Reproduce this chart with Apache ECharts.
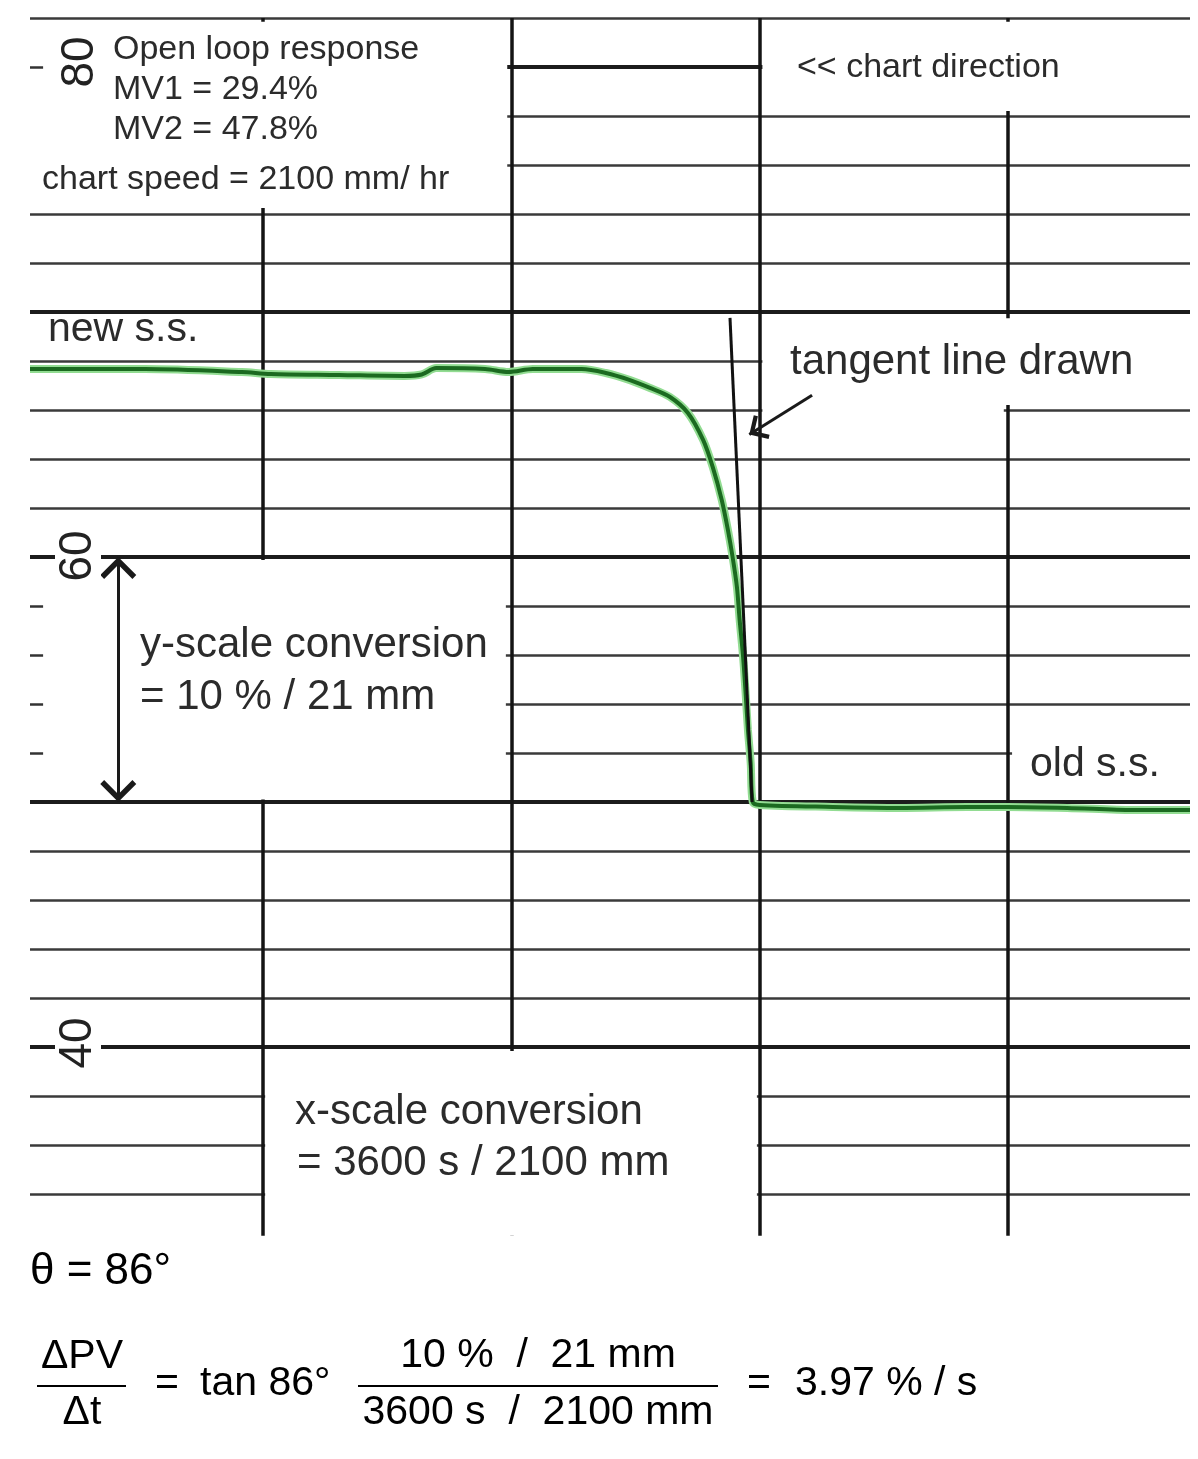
<!DOCTYPE html>
<html>
<head>
<meta charset="utf-8" />
<title>Open loop response</title>
<script src="https://cdn.jsdelivr.net/npm/echarts@6/dist/echarts.min.js"></script>
<style>
  html, body { margin: 0; padding: 0; background: #fff; }
  #chart { width: 1198px; height: 1459px; }
</style>
</head>
<body>
<div id="chart"></div>
<script>
// chart time in s (one major division = 21 mm = 36 s at 2100 mm/hr), PV in %
const timeMin = -33.8, timeMax = 134.4;
const pvMin = 32.3, pvMax = 82;

const majorTimes = [0, 36, 72, 108];
const majorPV = [40, 50, 60, 70, 80];
const minorPV = [34, 36, 38, 42, 44, 46, 48, 52, 54, 56, 58, 62, 64, 66, 68, 72, 74, 76, 78, 82];
const scaleTicks = [80, 58, 56, 54, 52];
const scaleLabels = ['80', '60', '40'];

// recorded PV trace
const pvTime = [-33.8, -17.1, -3.1, 1.1, 11.0, 20.5, 23.0, 25.1, 32.2, 35.6, 39.1, 46.2, 49.7, 53.2, 56.1,
  59.0, 61.6, 63.8, 65.2, 66.5, 67.4, 68.1, 68.7, 69.1, 69.6, 70.0, 70.3, 70.7, 71.0, 72.0,
  82.6, 92.3, 102.1, 107.9, 116.6, 126.1, 134.4];
const pvValue = [67.67, 67.67, 67.55, 67.47, 67.43, 67.39, 67.45, 67.71, 67.67, 67.55, 67.67, 67.67, 67.51, 67.22, 66.90,
  66.53, 65.88, 64.78, 63.67, 62.33, 61.10, 59.96, 58.78, 57.43, 55.92, 54.29, 52.94, 51.59, 50.0, 49.88,
  49.80, 49.76, 49.80, 49.80, 49.76, 49.67, 49.67];

// tangent drawn at the steepest point
const tangentTime = [67.7, 70.9];
const tangentValue = [69.76, 50.0];

// y-scale span (10 % = 21 mm) and the pointer to the tangent
const spanTime = -21.0;
const spanValue = [60, 50];
const pointerTime = [79.6, 70.5];
const pointerValue = [66.6, 65.0];

// white label panels [t1, pv1, t2, pv2]
const panels = [
  [-33.8, 81.85, 35.4, 74.25],
  [72.4, 81.85, 134.4, 78.2],
  [72.4, 69.75, 134.4, 66.2],
  [72.4, 66.2, 107.4, 65.2],
  [-33.8, 59.88, 35.2, 50.1],
  [108.6, 52.75, 134.4, 50.4],
  [0.3, 39.84, 71.6, 32.3]
];

const FONT = '"Liberation Sans", Arial, sans-serif';
const chevron = 'path://M0,14L14,0L28,14L25,17L14,6L3,17Z';

function txt(str, x, y, size, extra) {
  const el = {
    type: 'text', x: x, y: y, z: 20,
    style: {
      text: str, font: size + 'px ' + FONT, fill: '#2b2b2b',
      align: 'left', verticalAlign: 'middle',
      textAlign: 'left', textVerticalAlign: 'middle'
    }
  };
  if (extra) {
    Object.assign(el.style, extra.style || {});
    if (extra.rotation != null) el.rotation = extra.rotation;
  }
  return el;
}
function ctr(str, x, y, size, fill) {
  return txt(str, x, y, size, { style: { align: 'center', textAlign: 'center', fill: fill || '#000' } });
}
function bar(x1, x2, y) {
  return { type: 'line', z: 20, shape: { x1: x1, y1: y, x2: x2, y2: y }, style: { stroke: '#000', lineWidth: 2 } };
}
function scaleLabel(str, x, y) {
  return txt(str, x, y, 46, {
    rotation: Math.PI / 2,
    style: { align: 'center', textAlign: 'center', fill: '#222', backgroundColor: '#fff', padding: [0, 4] }
  });
}

const gridLines = []
  .concat(majorPV.map(v => ({ yAxis: v, lineStyle: { width: 4, color: '#1c1c1c', type: 'solid' } })))
  .concat(minorPV.map(v => ({ yAxis: v, lineStyle: { width: 2.5, color: '#3a3a3a', type: 'solid' } })))
  .concat(majorTimes.map(t => ({ xAxis: t, lineStyle: { width: 3.5, color: '#141414', type: 'solid' } })));

const trace = pvTime.map((t, i) => [t, pvValue[i]]);
const tangent = tangentTime.map((t, i) => [t, tangentValue[i]]);

const chart = echarts.init(document.getElementById('chart'));

const option = {
  animation: false,
  backgroundColor: '#ffffff',
  grid: { left: 30, right: 8, top: 18, bottom: 223.35 },
  xAxis: { type: 'value', min: timeMin, max: timeMax, show: false },
  yAxis: { type: 'value', min: pvMin, max: pvMax, show: false },
  series: [
    {
      name: 'grid', type: 'line', data: [], silent: true,
      markLine: {
        z: 2, silent: true, animation: false, symbol: ['none', 'none'],
        label: { show: false }, emphasis: { disabled: true },
        data: gridLines
      }
    },
    {
      name: 'panels', type: 'line', data: [], silent: true,
      markArea: {
        z: 3, silent: true, animation: false,
        label: { show: false },
        itemStyle: { color: '#ffffff', opacity: 1, borderWidth: 0 },
        data: panels.map(p => [{ coord: [p[0], p[1]] }, { coord: [p[2], p[3]] }])
      }
    },
    {
      name: 'scale ticks', type: 'line', data: [], silent: true,
      markLine: {
        z: 6, silent: true, animation: false, symbol: ['none', 'none'],
        label: { show: false },
        lineStyle: { width: 2.5, color: '#333', type: 'solid' },
        data: scaleTicks.map(v => [{ coord: [timeMin, v] }, { coord: [timeMin + 1.9, v] }])
      }
    },
    {
      name: 'y span', type: 'line', data: [], silent: true,
      markLine: {
        z: 6, silent: true, animation: false,
        symbol: [chevron, chevron],
        symbolOffset: [[0, '50%'], [0, '50%']],
        label: { show: false },
        lineStyle: { width: 3, color: '#1a1a1a', type: 'solid' },
        itemStyle: { color: '#1a1a1a' },
        data: [[
          { coord: [spanTime, spanValue[0]], symbolSize: [36, 22] },
          { coord: [spanTime, spanValue[1]], symbolSize: [36, 22] }
        ]]
      }
    },
    {
      name: 'pointer', type: 'line', data: [], silent: true,
      markLine: {
        z: 6, silent: true, animation: false,
        symbol: ['none', chevron],
        symbolOffset: [[0, '50%'], [0, '50%']],
        label: { show: false },
        lineStyle: { width: 3, color: '#1a1a1a', type: 'solid' },
        itemStyle: { color: '#1a1a1a' },
        data: [[
          { coord: [pointerTime[0], pointerValue[0]], symbolSize: [28, 17] },
          { coord: [pointerTime[1], pointerValue[1]], symbolSize: [28, 17] }
        ]]
      }
    },
    {
      name: 'PV halo', type: 'line', data: trace, z: 8, silent: true,
      symbol: 'none', smooth: 0.3,
      lineStyle: { width: 8, color: '#92dc92' }
    },
    {
      name: 'PV', type: 'line', data: trace, z: 9, silent: true,
      symbol: 'none', smooth: 0.3,
      lineStyle: { width: 4, color: '#1b6a20' }
    },
    {
      name: 'tangent', type: 'line', data: tangent, z: 10, silent: true,
      symbol: 'none',
      lineStyle: { width: 3, color: '#111' }
    }
  ],
  graphic: [
    // rotated scale numbers on the chart paper
    scaleLabel(scaleLabels[0], 80, 62),
    scaleLabel(scaleLabels[1], 78, 556),
    scaleLabel(scaleLabels[2], 78, 1043),

    txt('Open loop response', 113, 50, 34),
    txt('MV1 = 29.4%', 113, 90, 34),
    txt('MV2 = 47.8%', 113, 130, 34),
    txt('chart speed = 2100 mm/ hr', 42, 180, 34),
    txt('<< chart direction', 797, 68, 34),
    txt('new s.s.', 48, 330, 41),
    txt('tangent line drawn', 790, 362, 42),
    txt('y-scale conversion', 140, 645, 42),
    txt('= 10 % / 21 mm', 140, 697, 42),
    txt('old s.s.', 1030, 765, 41),
    txt('x-scale conversion', 295, 1112, 42),
    txt('= 3600 s / 2100 mm', 297, 1163, 42),

    // slope calculation below the chart
    txt('\u03b8 = 86\u00b0', 30, 1272, 44, { style: { fill: '#000' } }),
    ctr('\u0394PV', 82, 1357, 41),
    bar(37, 126, 1386),
    ctr('\u0394t', 82, 1413, 41),
    ctr('=', 167, 1384, 41),
    txt('tan 86\u00b0', 200, 1384, 41, { style: { fill: '#000' } }),
    ctr('10 %  /  21 mm', 538, 1356, 41),
    bar(358, 718, 1386),
    ctr('3600 s  /  2100 mm', 538, 1413, 41),
    ctr('=', 759, 1384, 41),
    txt('3.97 % / s', 795, 1384, 41, { style: { fill: '#000' } })
  ]
};

chart.setOption(option);
</script>
</body>
</html>
